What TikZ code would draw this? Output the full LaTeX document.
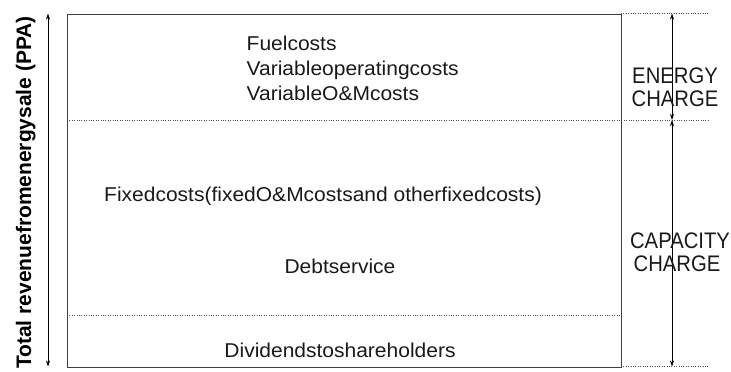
\documentclass[tikz,border=0pt]{standalone}
\usepackage{fontspec}
\setmainfont{Liberation Sans}
\usetikzlibrary{arrows.meta}
\newcommand{\wx}[1]{\scalebox{1.05}[1]{#1}}
\newcommand{\nx}[1]{\scalebox{0.9}[1]{#1}}
\begin{document}
\begin{tikzpicture}[x=1pt,y=-1pt,
  body/.style={inner sep=0pt, text=black!90, font=\fontsize{20}{23}\selectfont},
  chg/.style={inner sep=0pt, text=black!90, font=\fontsize{22.5}{23}\selectfont},
  sidetxt/.style={inner sep=0pt, rotate=90, anchor=base, font=\fontsize{21}{24}\selectfont\bfseries},
  frame/.style={draw=black!75, line width=1.1pt, inner sep=0pt},
  dotline/.style={line width=0.8pt, dash pattern=on 0.8pt off 1.6pt, black!70},
  dimarrow/.style={line width=0.8pt, {Stealth[length=6pt,width=4pt]}-{Stealth[length=6pt,width=4pt]}}]
\useasboundingbox (0,0) rectangle (731,372);
% main box
\node[frame, minimum width=554pt, minimum height=353pt, anchor=north west] (box) at (67,13.5) {};
% coordinates
\coordinate (dl1) at (67,120);
\coordinate (dr1) at (708,120);
\coordinate (dl2) at (67,315);
\coordinate (dr2) at (621,315);
\coordinate (tr0) at (621,13.5);
\coordinate (te0) at (708,13.5);
\coordinate (br0) at (621,366.5);
\coordinate (be0) at (708,366.5);
\coordinate (atop) at (672,13.5);
\coordinate (amid) at (672,120);
\coordinate (abot) at (672,366.5);
\coordinate (ltop) at (48,13.5);
\coordinate (lbot) at (48,366.5);
% dotted lines
\draw[dotline] (dl1) -- (dr1);
\draw[dotline] (dl2) -- (dr2);
\draw[dotline] (tr0) -- (te0);
\draw[dotline] (br0) -- (be0);
% arrows
\draw[dimarrow] (atop) -- (amid);
\draw[dimarrow] (amid) -- (abot);
\draw[dimarrow] (ltop) -- (lbot);
% texts
\node[body, anchor=base west] (fuel) at (246.5,50) {\wx{Fuelcosts}};
\node[body, anchor=base west] (varop) at (246.5,75) {\wx{Variableoperatingcosts}};
\node[body, anchor=base west] (varom) at (246.5,100) {\wx{VariableO\&Mcosts}};
\node[body, anchor=base west] (fixed) at (104,201.7) {\wx{Fixedcosts(fixedO\&Mcostsand otherfixedcosts)}};
\node[body, anchor=base] (debt) at (340,273) {\wx{Debtservice}};
\node[body, anchor=base] (div) at (340,357.5) {\wx{Dividendstoshareholders}};
\node[chg, anchor=base] (en1) at (675,83.3) {\nx{ENERGY}};
\node[chg, anchor=base] (en2) at (675,106.7) {\nx{CHARGE}};
\node[chg, anchor=base] (ca1) at (680,248.3) {\nx{CAPACITY}};
\node[chg, anchor=base] (ca2) at (677,271.7) {\nx{CHARGE}};
\node[sidetxt] (side) at (31,192.5) {Total revenuefromenergysale (PPA)};
\end{tikzpicture}
\end{document}
